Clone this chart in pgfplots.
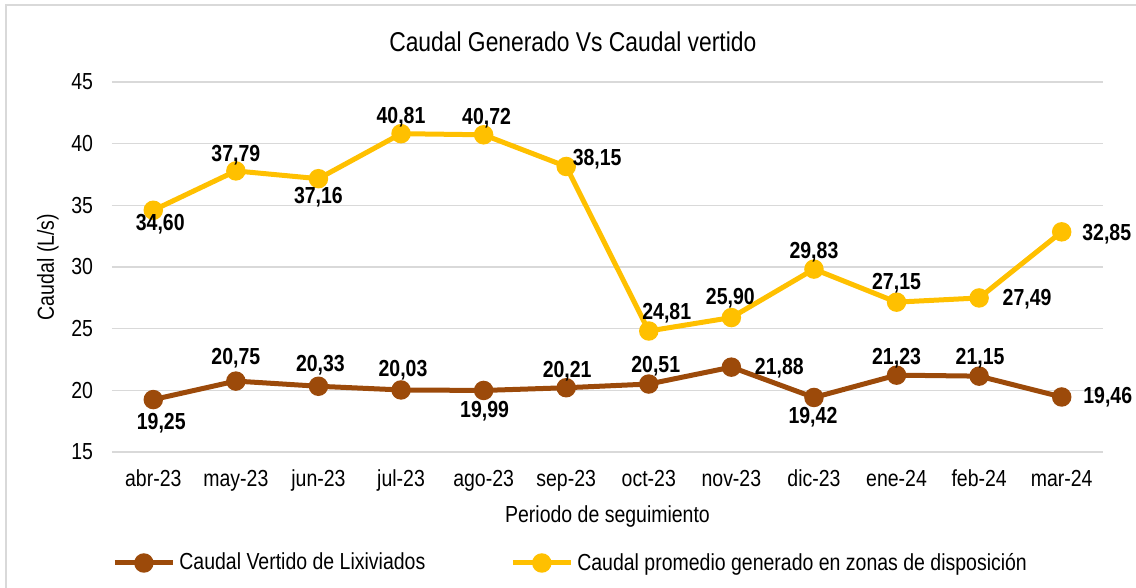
\documentclass[border=0pt]{standalone}
\usepackage{pgfplots}
\pgfplotsset{compat=1.18}
\usepackage{pgfplotstable}
\usepackage{fontspec}
\setmainfont{Liberation Sans}[FakeStretch=0.84]
\definecolor{cyel}{HTML}{FFC000}
\definecolor{cbrn}{HTML}{9C4A0A}
\definecolor{cgrid}{HTML}{D9D9D9}
\pgfplotstableread{
x y lab dx dy
0 34.60 34,60 3.5 -7
1 37.79 37,79 0 8
2 37.16 37,16 0 -9.5
3 40.81 40,81 0 8
4 40.72 40,72 1.5 8.5
5 38.15 38,15 15.5 3.5
6 24.81 24,81 9 9
7 25.90 25,90 -0.5 9.5
8 29.83 29,83 0 8.5
9 27.15 27,15 0 9.5
10 27.49 27,49 24 -0.5
11 32.85 32,85 22.5 -1
}\tblgen
\pgfplotstableread{
x y lab dx dy
0 19.25 19,25 4 -12
1 20.75 20,75 0 11.5
2 20.33 20,33 1 10.5
3 20.03 20,03 1 10
4 19.99 19,99 0.5 -10.5
5 20.21 20,21 0.5 8.5
6 20.51 20,51 3.5 9
7 21.88 21,88 24 -0.5
8 19.42 19,42 -0.5 -10
9 21.23 21,23 0 8.5
10 21.15 21,15 0.5 9
11 19.46 19,46 23 0
}\tblver
\begin{document}
\begin{tikzpicture}
\begin{axis}[
  at={(0,0)}, anchor=south west,
  scale only axis, width=495.5pt, height=185pt,
  xmin=-0.5, xmax=11.5, ymin=15, ymax=45,
  ytick={15,20,...,45},
  xtick={0,...,11},
  xticklabels={abr-23,may-23,jun-23,jul-23,ago-23,sep-23,oct-23,nov-23,dic-23,ene-24,feb-24,mar-24},
  axis line style={draw=none},
  major tick length=0pt,
  ymajorgrids, grid style={cgrid, line width=0.75pt},
  tick label style={font=\fontsize{11.6}{13}\selectfont, text=black},
  /pgf/number format/assume math mode=true,
  xticklabel style={yshift=-5.5pt},
  yticklabel style={xshift=-6pt},
  xlabel={Periodo de seguimiento},
  ylabel={Caudal (L/s)},
  label style={font=\fontsize{11.6}{13}\selectfont},
  xlabel style={at={(axis description cs:0.5,-0.173)}, anchor=center},
  ylabel style={at={(axis description cs:-0.0646,0.5)}, anchor=center},
  title={Caudal Generado Vs Caudal vertido},
  title style={at={(axis description cs:0.465,1.0756)}, anchor=center, font=\fontsize{13.6}{15}\selectfont},
  clip=false,
  nodes near coords, point meta=explicit symbolic,
  visualization depends on={\thisrow{dx} \as \labdx},
  visualization depends on={\thisrow{dy} \as \labdy},
  every node near coord/.append style={anchor=center, xshift=\labdx pt, yshift=\labdy pt, font=\bfseries\fontsize{11.6}{13}\selectfont, text=black},
  legend columns=2,
  legend style={at={(axis description cs:0,-0.3)}, anchor=west, draw=none, fill=none, inner sep=0pt, font=\fontsize{11.6}{13}\selectfont, /tikz/every even column/.append style={column sep=40.5pt}},
  legend image code/.code={\draw[mark repeat=2,mark phase=2,#1] plot coordinates {(0pt,0pt) (14.5pt,0pt) (29pt,0pt)};},
]
\addplot[cbrn, line width=2.5pt, mark=*, mark size=3.6pt, mark options={solid, fill=cbrn}] table[x=x, y=y, meta=lab] {\tblver};
\addlegendentry{Caudal Vertido de Lixiviados}
\addplot[cyel, line width=2.5pt, mark=*, mark size=3.6pt, mark options={solid, fill=cyel}] table[x=x, y=y, meta=lab] {\tblgen};
\addlegendentry{Caudal promedio generado en zonas de disposición}
\end{axis}
\begin{scope}
\clip (-56pt,-68pt) rectangle (512pt,226pt);
\draw[cgrid, line width=1pt] (-53pt,-90pt) rectangle (540pt,223.5pt);
\end{scope}
\pgfresetboundingbox
\useasboundingbox (-56pt,-68pt) rectangle (512pt,226pt);
\end{tikzpicture}
\end{document}
